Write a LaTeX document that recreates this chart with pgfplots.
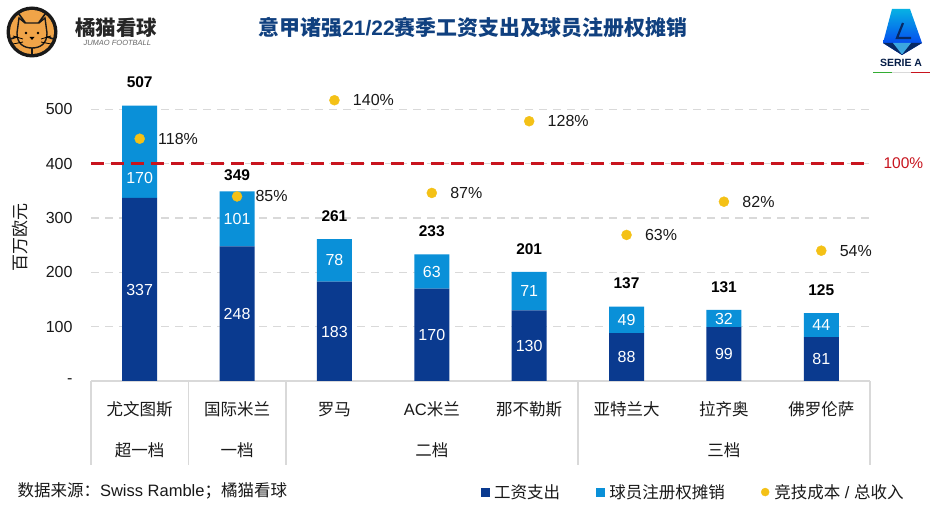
\documentclass[border=0pt]{standalone}
\usepackage{fontspec}
\usepackage{pgfplots}
\pgfplotsset{compat=1.18}
\setmainfont{Liberation Sans}
\newfontfamily\cjk{Noto Sans CJK SC}
\definecolor{cDark}{HTML}{0A3A8F}
\definecolor{cLight}{HTML}{0A90D8}
\definecolor{cDot}{HTML}{F4C116}
\definecolor{cRed}{HTML}{C8141E}
\definecolor{cGrid}{HTML}{D9D9D9}
\definecolor{cTitle}{HTML}{10407F}
\definecolor{cLogo}{HTML}{F0A448}
\begin{document}
\begin{tikzpicture}[x=1pt,y=1pt]
\useasboundingbox (0,0) rectangle (938,506);
\fill[white] (0,0) rectangle (938,506);
\begin{axis}[
  at={(91pt,125pt)}, anchor=south west,
  scale only axis, width=779pt, height=321pt,
  xmin=-0.5, xmax=7.5, ymin=0, ymax=591,
  clip=false,
  ybar stacked, bar width=35pt,
  axis x line=bottom, axis y line=left,
  axis line style={-}, x axis line style={draw=cGrid, line width=1.5pt},
  y axis line style={draw=none},
  major tick length=0pt,
  xtick={0,...,7},
  xticklabels={{\cjk 尤文图斯},{\cjk 国际米兰},{\cjk 罗马},{AC\cjk 米兰},{\cjk 那不勒斯},{\cjk 亚特兰大},{\cjk 拉齐奥},{\cjk 佛罗伦萨}},
  xticklabel style={font=\fontsize{16.5}{18}\selectfont, text=black!90, anchor=center, yshift=-30pt, text height=12pt, text depth=3pt},
  ytick={0,100,200,300,400,500},
  yticklabels={-,100,200,300,400,500},
  yticklabel style={font=\fontsize{16}{18}\selectfont, text=black!90, xshift=-15pt, anchor=east},
  ymajorgrids,
  grid style={draw=cGrid, line width=1.3pt, dash pattern=on 8pt off 6pt},
  legend columns=3,
  legend style={draw=none, fill=none, at={(0.773,-0.346)}, anchor=center,
    font=\fontsize{16.5}{18}\selectfont, text=black!90,
    /tikz/column 1/.style={column sep=3pt},
    /tikz/column 2/.style={column sep=34pt},
    /tikz/column 3/.style={column sep=3pt},
    /tikz/column 4/.style={column sep=34pt},
    /tikz/column 5/.style={column sep=3pt}},
  legend cell align=left,
]
\addplot[fill=cDark, draw=none, forget plot] coordinates {(0,337) (1,248) (2,183) (3,170) (4,130) (5,88) (6,99) (7,81)};
\addplot[fill=cLight, draw=none, forget plot] coordinates {(0,170) (1,101) (2,78) (3,63) (4,71) (5,49) (6,32) (7,44)};
\addlegendimage{legend image code/.code={\fill[cDark] (0pt,-4pt) rectangle (8pt,4pt);}}
\addlegendentry{{\cjk 工资支出}}
\addlegendimage{legend image code/.code={\fill[cLight] (0pt,-4pt) rectangle (8pt,4pt);}}
\addlegendentry{{\cjk 球员注册权摊销}}
\addlegendimage{legend image code/.code={\fill[cDot] (4pt,0pt) circle (4pt);}}
\addlegendentry{{\cjk 竞技成本} / {\cjk 总收入}}
\end{axis}
% overlay axis: labels and reference line on the same scale
\begin{axis}[
  at={(91pt,125pt)}, anchor=south west,
  scale only axis, width=779pt, height=321pt,
  xmin=-0.5, xmax=7.5, ymin=0, ymax=591,
  clip=false, hide axis,
]
\addplot[only marks, mark=none, point meta=explicit symbolic,
  nodes near coords, nodes near coords align={center},
  every node near coord/.append style={anchor=center, text=white, font=\fontsize{16}{18}\selectfont}]
  coordinates {(0,168)[337] (1,124)[248] (2,91)[183] (3,85)[170] (4,65)[130] (5,44)[88] (6,49)[99] (7,40)[81]
   (0,374)[170] (1,298)[101] (2,222)[78] (3,201)[63] (4,165)[71] (5,112)[49] (6,115)[32] (7,103)[44]};
\addplot[only marks, mark=none, point meta=explicit symbolic,
  nodes near coords, nodes near coords align={center},
  every node near coord/.append style={anchor=center, text=black, yshift=23pt, font=\bfseries\fontsize{15.5}{18}\selectfont}]
  coordinates {(0,507)[507] (2,261)[261] (3,233)[233] (4,201)[201] (5,137)[137] (6,131)[131] (7,125)[125]};
\addplot[only marks, mark=none, point meta=explicit symbolic,
  nodes near coords, nodes near coords align={center},
  every node near coord/.append style={anchor=center, text=black, yshift=16pt, font=\bfseries\fontsize{15.5}{18}\selectfont}]
  coordinates {(1,349)[349]};
\addplot[cRed, line width=3pt, dash pattern=on 13pt off 7pt] coordinates {(-0.5,401) (7.5,401)};
\node[text=cRed, font=\fontsize{15.5}{18}\selectfont, anchor=west] at (axis cs:7.5,401) [xshift=10pt] {100\%};
% category frame
\foreach \x in {-0.5,0.5,1.5,4.5,7.5}{
  \edef\tmp{\noexpand\draw[cGrid, line width=1.5pt] (axis cs:\x,0) -- ([yshift=-84pt]axis cs:\x,0);}\tmp
}
\foreach \x/\t in {0/超一档,1/一档,3/二档,6/三档}{
  \edef\tmp{\noexpand\node[font=\noexpand\fontsize{16.5}{18}\noexpand\selectfont\noexpand\cjk, text=black!90] at (axis cs:\x,0) [yshift=-69pt] {\t};}\tmp
}
\end{axis}
% competition cost / total revenue, own right-hand scale
\begin{axis}[
  at={(91pt,125pt)}, anchor=south west,
  scale only axis, width=779pt, height=321pt,
  xmin=-0.5, xmax=7.5, ymin=-20.5, ymax=163,
  clip=false, hide axis,
]
\addplot[only marks, mark=*, mark size=5pt, draw=cDot, fill=cDot, mark options={fill=cDot, draw=cDot},
  point meta=explicit symbolic, nodes near coords,
  every node near coord/.append style={anchor=west, xshift=15pt, yshift=0pt, text=black!90, font=\fontsize{16}{18}\selectfont}]
  coordinates {(0,118)[118\%] (1,85)[85\%] (2,140)[140\%] (3,87)[87\%] (4,128)[128\%] (5,63)[63\%] (6,82)[82\%] (7,54)[54\%]};
\end{axis}
% texts around the chart
\node[rotate=90, font=\fontsize{17}{18}\selectfont\cjk, text=black!90] at (20,268) {百万欧元};
\node[font=\bfseries\fontsize{20.9}{24}\selectfont, text=cTitle] at (473,478) {{\cjk 意甲诸强}21/22{\cjk 赛季工资支出及球员注册权摊销}};
\node[anchor=west, font=\fontsize{16.5}{18}\selectfont, text=black!90] at (14,15) {{\cjk 数据来源：}Swiss Ramble{\cjk ；橘猫看球}};
% left logo
\fill[black!90] (32,474) circle (25.5);
\fill[cLogo] (32,474) circle (22);
\foreach \a in {54,126,198,270,342}{
  \draw[black!90, line width=1.6pt] (32,474) -- ++(\a:24);
}
\fill[cLogo, draw=black!90, line width=1.4pt]
  (19,488) -- (25,483) -- (39,483) -- (45,488) -- (47,473) .. controls (47,462) and (40,458) .. (32,458)
  .. controls (24,458) and (17,462) .. (17,473) -- cycle;
\fill[black] (26,473) circle (1.4) (38,473) circle (1.4);
\fill[black] (29.5,469) -- (34.5,469) -- (32,466) -- cycle;
\draw[black, line width=.8pt] (13,470) -- (23,467) (13,462) -- (23,464) (51,470) -- (41,467) (51,462) -- (41,464);
\node[font=\bfseries\fontsize{20.5}{24}\selectfont\cjk, text=black!85, anchor=west] at (71.5,478) {橘猫看球};
\node[font=\itshape\fontsize{7.5}{9}\selectfont, text=black!60, anchor=west] at (80,463) {JUMAO FOOTBALL};
% right logo
\shade[top color=cLight!70!cyan, bottom color=blue!70!cLight]
  (892,497) -- (910,497) -- (922,463) -- (902,451) -- (883,463) -- cycle;
\fill[cDark!70!black] (883,463) -- (902,451) -- (902,457) -- (893,463) -- cycle;
\fill[cDark!70!black] (922,463) -- (902,451) -- (902,457) -- (911,463) -- cycle;
\fill[cLight!80!white] (893,463) -- (911,463) -- (902,451.5) -- cycle;
\draw[cDark!70!black, line width=2.2pt] (903,483) -- (897,468) -- (911,468);
\node[font=\bfseries\fontsize{10.5}{12}\selectfont, text=cDark!50!black] at (901,443) {SERIE A};
\draw[line width=1.4pt, green!60!black!80] (873,433.5) -- (892,433.5);
\draw[line width=1.4pt, black!15] (892,433.5) -- (911,433.5);
\draw[line width=1.4pt, cRed] (911,433.5) -- (930,433.5);
\end{tikzpicture}
\end{document}
